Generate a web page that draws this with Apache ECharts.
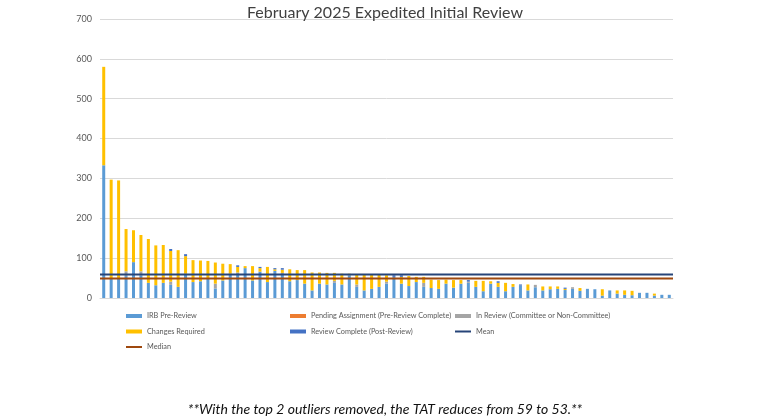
<!DOCTYPE html>
<html>
<head>
<meta charset="utf-8">
<script src="https://cdn.jsdelivr.net/npm/echarts@6/dist/echarts.min.js"></script>
<style>html,body{margin:0;padding:0;background:#fff;}#c{width:770px;height:420px;}</style>
</head>
<body>
<div id="c"></div>
<script>
const categories = ['1','2','3','4','5','6','7','8','9','10','11','12','13','14','15','16','17','18','19','20','21','22','23','24','25','26','27','28','29','30','31','32','33','34','35','36','37','38','39','40','41','42','43','44','45','46','47','48','49','50','51','52','53','54','55','56','57','58','59','60','61','62','63','64','65','66','67','68','69','70','71','72','73','74','75','76','77'];
const irbPreReview = [333,50,50,55,90,57,38,32,38,33,28,61,40,42,48,24,44,61,58,75,44,66,40,68,58,42,45,36,19,36,34,38,34,57,28,19,23,28,36,53,36,30,40,28,25,23,36,26,36,38,28,17,36,28,17,28,31,19,27,19,22,23,20,23,18,23,22,6,19,11,8,7,13,13,6,8,8];
const pendingAssignment = [0,0,0,0,0,0,0,0,0,0,0,0,0,0,0,0,0,0,0,0,0,0,0,0,0,0,0,0,0,0,0,0,0,0,0,0,0,0,0,0,0,0,0,0,0,0,0,0,0,0,0,0,0,0,0,0,0,0,0,0,0,0,0,0,0,0,0,0,0,0,0,0,0,0,0,0,0];
const inReview = [0,0,0,12,0,10,0,0,0,8,0,0,0,0,0,12,0,0,6,0,0,0,0,0,5,0,0,0,0,0,0,5,0,0,6,0,0,0,5,0,0,0,0,10,0,0,0,0,0,3,0,0,0,0,0,0,0,0,6,0,0,0,0,4,0,0,0,0,0,0,0,0,0,0,0,0,0];
const changesRequired = [247,247,245,106,80,91,110,100,95,77,92,44,55,52,45,53,42,24,14,5,36,9,38,4,8,30,25,34,45,28,29,20,27,4,26,40,36,30,16,0,17,25,13,15,21,22,10,19,9,0,15,26,6,10,21,7,0,15,0,10,7,6,3,0,7,0,0,16,0,8,11,11,0,0,5,0,0];
const reviewComplete = [0,0,0,0,0,0,0,0,0,5,0,5,0,0,0,0,0,0,4,0,0,3,0,3,4,0,0,0,0,0,0,0,0,0,0,0,0,0,0,4,4,0,0,0,0,0,0,0,0,4,0,0,0,4,0,0,3,0,0,0,0,0,3,0,0,0,0,0,0,0,0,0,0,0,0,0,0];
const meanValue = 59;
const medianValue = 49;
const yTicks = [0,100,200,300,400,500,600,700];

const chart = echarts.init(document.getElementById('c'));
const FONT = 'Lato, "Open Sans", sans-serif';
const LINE_ICON = 'path://M0,0L16,0L16,2L0,2Z';
function barSeries(name, data, color) {
  return { name: name, type: 'bar', stack: 'tat', data: data, barWidth: 3,
    itemStyle: { color: color }, emphasis: { disabled: true } };
}
function lineSeries(name, value, color) {
  return { name: name, type: 'line', xAxisIndex: 1, data: [value, value],
    symbol: 'none', showSymbol: false, z: 5,
    lineStyle: { color: color, width: 2 }, itemStyle: { color: color } };
}
const legendText = { fontFamily: FONT, fontSize: 7.3, color: '#595959', lineHeight: 10 };
function legendCol(left, items) {
  return { orient: 'vertical', left: left, top: 311, padding: 0, itemWidth: 16, itemHeight: 4,
    itemGap: 5.5, textStyle: legendText, data: items };
}
chart.setOption({
  animation: false,
  title: [
    { text: 'February 2025 Expedited Initial Review', left: 'center', top: 0,
      textStyle: { fontFamily: FONT, fontSize: 16, fontWeight: 'normal', color: '#404040' } },
    { text: '**With the top 2 outliers removed, the TAT reduces from 59 to 53.**', left: 'center', top: 397,
      textStyle: { fontFamily: FONT, fontSize: 14, fontWeight: 'normal', fontStyle: 'italic', color: '#111' } }
  ],
  grid: { left: 100, right: 97, top: 19, bottom: 122 },
  legend: [
    legendCol(126, [{name:'IRB Pre-Review', icon:'rect'}, {name:'Changes Required', icon:'rect'}, {name:'Median', icon: LINE_ICON}]),
    legendCol(290, [{name:'Pending Assignment (Pre-Review Complete)', icon:'rect'}, {name:'Review Complete (Post-Review)', icon:'rect'}]),
    legendCol(455, [{name:'In Review (Committee or Non-Committee)', icon:'rect'}, {name:'Mean', icon: LINE_ICON}])
  ],
  xAxis: [
    { type: 'category', data: categories, boundaryGap: true,
      axisLine: { show: true, lineStyle: { color: '#D9D9D9' } },
      axisTick: { show: false }, axisLabel: { show: false } },
    { type: 'category', data: ['s','e'], boundaryGap: false, show: false }
  ],
  yAxis: {
    type: 'value', min: yTicks[0], max: yTicks[yTicks.length - 1], interval: 100,
    axisLine: { show: false }, axisTick: { show: false },
    axisLabel: { fontFamily: FONT, fontSize: 9, color: '#595959', margin: 8 },
    splitLine: { lineStyle: { color: '#D9D9D9', width: 1 } }
  },
  series: [
    barSeries('IRB Pre-Review', irbPreReview, '#5B9BD5'),
    barSeries('Pending Assignment (Pre-Review Complete)', pendingAssignment, '#ED7D31'),
    barSeries('In Review (Committee or Non-Committee)', inReview, '#A5A5A5'),
    barSeries('Changes Required', changesRequired, '#FFC000'),
    barSeries('Review Complete (Post-Review)', reviewComplete, '#4472C4'),
    lineSeries('Mean', meanValue, '#264478'),
    lineSeries('Median', medianValue, '#9E480E')
  ]
});
</script>
</body>
</html>
